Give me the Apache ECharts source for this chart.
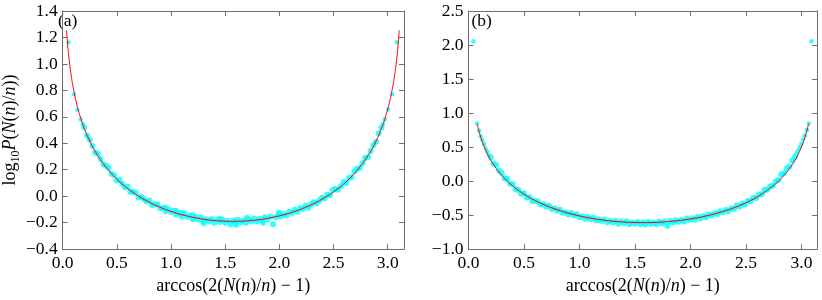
<!DOCTYPE html>
<html>
<head>
<meta charset="utf-8">
<script src="https://cdn.jsdelivr.net/npm/echarts@6/dist/echarts.min.js"></script>
<style>
html,body{margin:0;padding:0;background:#fff;}
#chart{width:822px;height:300px;}
</style>
</head>
<body>
<div id="chart"></div>
<script>
// ---------- Panel (a) ----------
const aLineX = [0.036,0.045,0.06,0.08,0.1,0.13,0.16,0.2,0.25,0.3,0.35,0.4,0.5,0.6,0.7,0.8,0.9,1.0,1.1,1.2,1.3,1.4,1.5,1.571,1.642,1.742,1.842,1.942,2.042,2.142,2.242,2.342,2.442,2.542,2.642,2.742,2.792,2.842,2.892,2.942,2.982,3.012,3.042,3.062,3.082,3.097,3.106];
const aLineY = [1.254,1.157,1.032,0.907,0.811,0.697,0.608,0.512,0.417,0.339,0.275,0.220,0.129,0.058,0.001,-0.046,-0.084,-0.115,-0.140,-0.159,-0.174,-0.184,-0.189,-0.190,-0.189,-0.184,-0.174,-0.159,-0.140,-0.115,-0.084,-0.046,0.001,0.058,0.129,0.220,0.275,0.339,0.417,0.512,0.608,0.697,0.811,0.907,1.032,1.157,1.254];

const aEdgeX = [0.054,0.106,0.136,0.166,0.185,3.085,3.040,3.003,2.973,2.955];
const aEdgeY = [1.164,0.771,0.654,0.581,0.545,1.164,0.771,0.658,0.581,0.545];

const aLeftX = [0.200,0.225,0.250,0.275,0.300,0.325,0.350,0.375,0.400,0.425,0.450,0.475,0.500,0.525,0.550,0.575,0.600,0.625,0.650,0.675,0.700,0.725,0.750,0.775,0.800,0.825,0.850,0.875,0.900,0.925,0.950,0.975,1.000,1.025,1.050,1.075,1.100,1.125,1.150,1.175,1.200,1.225,1.250,1.275,1.300,1.325,1.350,1.375,1.400,1.425,1.450,1.475,1.500,1.525,1.550,1.575];
const aLeftY = [0.522,0.458,0.429,0.379,0.331,0.321,0.281,0.241,0.231,0.213,0.169,0.159,0.119,0.124,0.094,0.068,0.074,0.034,0.033,0.026,-0.011,-0.004,-0.023,-0.041,-0.033,-0.067,-0.060,-0.060,-0.092,-0.089,-0.113,-0.098,-0.119,-0.110,-0.138,-0.130,-0.153,-0.131,-0.156,-0.148,-0.174,-0.158,-0.176,-0.160,-0.188,-0.174,-0.190,-0.173,-0.200,-0.179,-0.195,-0.178,-0.201,-0.186,-0.212,-0.183];

const aRightX = [2.942,2.917,2.892,2.867,2.842,2.817,2.792,2.767,2.742,2.717,2.692,2.667,2.642,2.617,2.592,2.567,2.542,2.517,2.492,2.467,2.442,2.417,2.392,2.367,2.342,2.317,2.292,2.267,2.242,2.217,2.192,2.167,2.142,2.117,2.092,2.067,2.042,2.017,1.992,1.967,1.942,1.917,1.892,1.867,1.842,1.817,1.792,1.767,1.742,1.717,1.692,1.667,1.642,1.617,1.592];
const aRightY = [0.520,0.475,0.411,0.385,0.341,0.297,0.289,0.250,0.213,0.207,0.189,0.146,0.137,0.099,0.107,0.076,0.049,0.055,0.046,0.008,0.011,-0.017,-0.011,-0.033,-0.056,-0.045,-0.062,-0.087,-0.070,-0.095,-0.091,-0.118,-0.103,-0.128,-0.118,-0.146,-0.134,-0.154,-0.137,-0.159,-0.212,-0.154,-0.174,-0.159,-0.186,-0.171,-0.189,-0.169,-0.189,-0.177,-0.201,-0.183,-0.198,-0.179,-0.196];

const aExtraX = [0.95,1.05,1.1,1.2,1.3,1.45,1.6,1.7,1.85,2.0];
const aExtraY = [-0.088,-0.112,-0.125,-0.145,-0.205,-0.170,-0.215,-0.165,-0.200,-0.125];

// ---------- Panel (b) ----------
const bLineX = [0.078,0.09,0.11,0.13,0.16,0.2,0.25,0.3,0.35,0.4,0.5,0.6,0.7,0.8,0.9,1.0,1.1,1.2,1.3,1.4,1.5,1.571,1.642,1.742,1.842,1.942,2.042,2.142,2.242,2.342,2.442,2.542,2.642,2.742,2.792,2.842,2.892,2.942,2.982,3.012,3.032,3.052,3.064];
const bLineY = [0.842,0.761,0.647,0.552,0.435,0.309,0.185,0.084,-0.001,-0.073,-0.192,-0.285,-0.360,-0.421,-0.471,-0.512,-0.545,-0.570,-0.589,-0.602,-0.609,-0.610,-0.609,-0.602,-0.589,-0.570,-0.545,-0.512,-0.471,-0.421,-0.360,-0.285,-0.192,-0.073,-0.001,0.084,0.185,0.309,0.435,0.552,0.647,0.761,0.842];

const bEdgeX = [0.045,0.078,0.095,0.11,0.125,0.14,0.155,0.17,0.185,3.09,3.066,3.05,3.03,3.015,3.0,2.985,2.97,2.955];
const bEdgeY = [2.056,0.848,0.74,0.66,0.60,0.54,0.48,0.43,0.38,2.056,0.848,0.75,0.67,0.61,0.55,0.50,0.45,0.41];

const bLeftX = aLeftX.slice();
const bLeftY = [0.350,0.258,0.235,0.157,0.119,0.040,0.029,-0.041,-0.045,-0.121,-0.131,-0.185,-0.180,-0.242,-0.238,-0.294,-0.293,-0.295,-0.346,-0.339,-0.375,-0.364,-0.412,-0.401,-0.431,-0.420,-0.465,-0.458,-0.491,-0.470,-0.501,-0.486,-0.532,-0.516,-0.554,-0.527,-0.557,-0.537,-0.580,-0.560,-0.588,-0.566,-0.606,-0.583,-0.609,-0.583,-0.626,-0.594,-0.620,-0.592,-0.634,-0.609,-0.629,-0.601,-0.635,-0.607];

const bRightX = aRightX.slice();
const bRightY = [0.355,0.301,0.215,0.184,0.116,0.095,0.014,-0.007,-0.068,-0.078,-0.126,-0.130,-0.194,-0.197,-0.249,-0.247,-0.295,-0.290,-0.344,-0.335,-0.372,-0.358,-0.407,-0.402,-0.443,-0.425,-0.457,-0.445,-0.489,-0.478,-0.505,-0.488,-0.532,-0.515,-0.545,-0.526,-0.567,-0.547,-0.573,-0.552,-0.594,-0.572,-0.598,-0.577,-0.611,-0.587,-0.655,-0.595,-0.622,-0.594,-0.634,-0.611,-0.627,-0.603,-0.640];

// axis ranges
const aYRange = {min: -0.4, max: 1.4, interval: 0.2};
const bYRange = {min: -1.0, max: 2.5, interval: 0.5};
const aXRange = {min: 0, max: 3.15, interval: 0.5};
const bXRange = {min: 0, max: 3.14, interval: 0.5};

function zip(xs, ys) {
  const n = Math.min(xs.length, ys.length);
  const out = [];
  for (let i = 0; i < n; i++) out.push([xs[i], ys[i]]);
  return out;
}

const FONT = 'Liberation Serif';
const AXC = '#6e6e6e';
const TICKFS = 17.5;
const NAMEFS = 18;
const fmt = v => (v < -1e-9 ? '\u2212' : '') + Math.abs(v).toFixed(1);

function mainAxis(pos, gridIndex, range, extra) {
  return Object.assign({
    type: 'value', gridIndex: gridIndex, position: pos,
    min: range.min, max: range.max, interval: range.interval,
    axisLine: {show: true, onZero: false, lineStyle: {color: AXC, width: 1}},
    axisTick: {show: true, inside: true, length: 5, lineStyle: {color: AXC}},
    splitLine: {show: false},
    axisLabel: {show: true, color: '#000', fontFamily: FONT, fontSize: TICKFS, margin: 5,
                formatter: fmt, showMaxLabel: pos === 'left' ? true : false, showMinLabel: true}
  }, extra || {});
}
function sideAxis(pos, gridIndex, range) {
  return {
    type: 'value', gridIndex: gridIndex, position: pos,
    min: range.min, max: range.max, interval: range.interval,
    axisLine: {show: true, onZero: false, lineStyle: {color: AXC, width: 1}},
    axisTick: {show: true, inside: true, length: 5, lineStyle: {color: AXC}},
    splitLine: {show: false},
    axisLabel: {show: false}
  };
}

const xName = '{r|arccos(2(}{i|N}{r|(}{i|n}{r|)/}{i|n}{r|) \u2212 1)}';
const xNameStyle = {
  color: '#000',
  rich: {
    r: {fontFamily: FONT, fontSize: NAMEFS, color: '#000'},
    i: {fontFamily: FONT, fontSize: NAMEFS, fontStyle: 'italic', color: '#000'}
  }
};
const yName = '{r|log}{s|10}{i|P}{r|(}{i|N}{r|(}{i|n}{r|)/}{i|n}{r|))}';
const yNameStyle = {
  color: '#000',
  rich: {
    r: {fontFamily: FONT, fontSize: NAMEFS, color: '#000', lineHeight: 24, verticalAlign: 'middle'},
    i: {fontFamily: FONT, fontSize: NAMEFS, fontStyle: 'italic', color: '#000', lineHeight: 24, verticalAlign: 'middle'},
    s: {fontFamily: FONT, fontSize: 12, color: '#000', lineHeight: 13, verticalAlign: 'bottom'}
  }
};

const chart = echarts.init(document.getElementById('chart'), null, {renderer: 'canvas'});

const scatterStyle = {color: '#00ffff'};
const option = {
  animation: false,
  backgroundColor: '#fff',
  grid: [
    {left: 55, top: 11, width: 349, height: 246.5},
    {left: 468.5, top: 11, width: 348.5, height: 246.5}
  ],
  xAxis: [
    mainAxis('bottom', 0, aXRange, {name: xName, nameLocation: 'middle', nameGap: 24, nameTextStyle: xNameStyle}),
    mainAxis('bottom', 1, bXRange, {name: xName, nameLocation: 'middle', nameGap: 24, nameTextStyle: xNameStyle}),
    sideAxis('top', 0, aXRange),
    sideAxis('top', 1, bXRange)
  ],
  yAxis: [
    mainAxis('left', 0, aYRange, {name: yName, nameLocation: 'middle', nameGap: 40, nameTextStyle: yNameStyle}),
    mainAxis('left', 1, bYRange),
    sideAxis('right', 0, aYRange),
    sideAxis('right', 1, bYRange)
  ],
  graphic: [
    {type: 'text', left: 58, top: 12, style: {text: '(a)', fontFamily: FONT, fontSize: 17.5, fill: '#000'}},
    {type: 'text', left: 471.5, top: 12, style: {text: '(b)', fontFamily: FONT, fontSize: 17.5, fill: '#000'}}
  ],
  series: [
    {type: 'scatter', xAxisIndex: 0, yAxisIndex: 0, symbol: 'circle', symbolSize: 4.5, itemStyle: scatterStyle,
     data: zip(aEdgeX, aEdgeY), z: 2},
    {type: 'scatter', xAxisIndex: 0, yAxisIndex: 0, symbol: 'circle', symbolSize: 6, itemStyle: scatterStyle,
     data: zip(aLeftX, aLeftY).concat(zip(aRightX, aRightY), zip(aExtraX, aExtraY)), z: 2},
    {type: 'line', xAxisIndex: 0, yAxisIndex: 0, data: zip(aLineX, aLineY), showSymbol: false, symbol: 'none',
     smooth: true, lineStyle: {color: '#ff0000', width: 1}, z: 3},
    {type: 'scatter', xAxisIndex: 1, yAxisIndex: 1, symbol: 'circle', symbolSize: 4.5, itemStyle: scatterStyle,
     data: zip(bEdgeX, bEdgeY), z: 2},
    {type: 'scatter', xAxisIndex: 1, yAxisIndex: 1, symbol: 'circle', symbolSize: 6, itemStyle: scatterStyle,
     data: zip(bLeftX, bLeftY).concat(zip(bRightX, bRightY)), z: 2},
    {type: 'line', xAxisIndex: 1, yAxisIndex: 1, data: zip(bLineX, bLineY), showSymbol: false, symbol: 'none',
     smooth: true, lineStyle: {color: '#ff0000', width: 1}, z: 3}
  ]
};
chart.setOption(option);
</script>
</body>
</html>
